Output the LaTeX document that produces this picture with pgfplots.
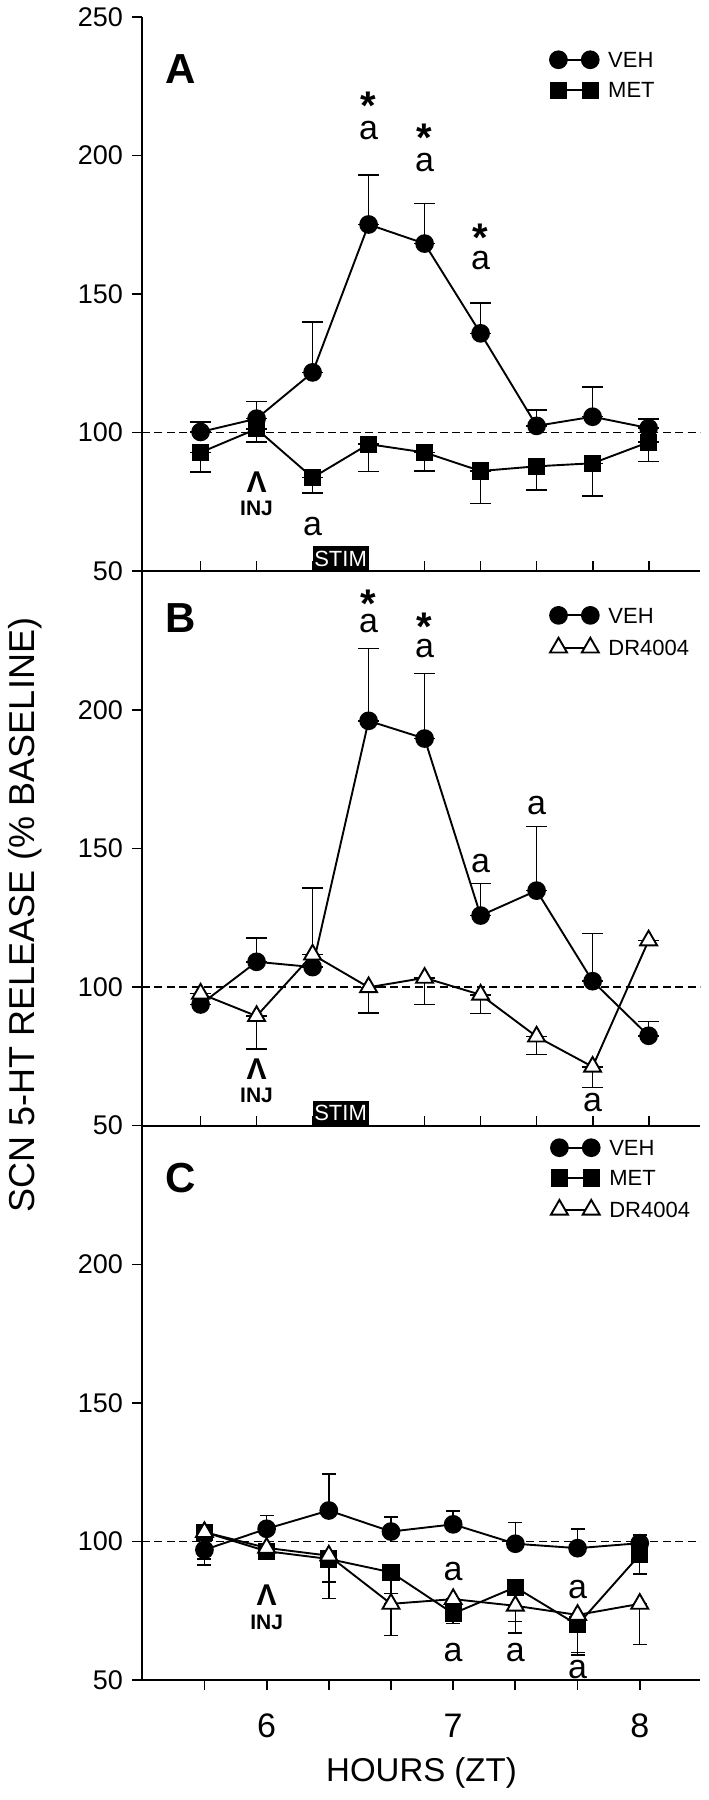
\documentclass[border=0pt]{standalone}
\usepackage{pgfplots}
\pgfplotsset{compat=1.18}
\usepackage{fontspec}
\setmainfont{Liberation Sans}
\newcommand{\fs}[1]{\fontsize{#1}{#1}\selectfont}
% 'a' with a bold asterisk raised above it, as one text box
\newcommand{\sta}[1]{\ooalign{\hfil a\hfil\cr\hfil\raisebox{#1}{\fs{20}\bfseries *}\hfil\cr}}
\pgfplotsset{
  panel/.style={
    scale only axis, width=279pt, height=277pt,
    axis x line=bottom, axis y line=left,
    axis line style={-, line width=1pt},
    ymin=50, ymax=250,
    tick align=outside,
    tick style={black, line width=0.9pt},
    major tick length=5pt,
    ticklabel style={font=\fs{13.5}},
    yticklabel style={xshift=-1pt},
    /pgf/number format/assume math mode=true,
    clip=false,
    legend image code/.code={\draw[mark repeat=1,mark phase=1,#1] plot coordinates {(0pt,0pt) (15.9pt,0pt)};},
    legend style={draw=none, fill=none, inner sep=0pt, outer sep=0pt, font=\fs{11},
      row sep=7pt, nodes={inner sep=0pt, text height=7.9pt, text depth=0pt},
      /tikz/every odd column/.append style={column sep=4.8pt}},
    legend cell align=left,
  },
  capbig/.style={error bars/error bar style={line width=0.75pt},
    error bars/error mark options={line width=0.75pt, mark size=5.2pt, rotate=90}},
  capsmall/.style={error bars/error bar style={line width=0.75pt},
    error bars/error mark options={line width=0.75pt, mark size=3.5pt, rotate=90}},
  dat/.style={black, line width=0.95pt, mark options={solid},
    error bars/y dir=both, error bars/y explicit},
  veh/.style={dat, mark=*, mark size=4.2pt},
  met/.style={dat, mark=square*, mark size=3.8pt},
  dr/.style={dat, mark=triangle*, mark size=4.9pt, mark options={fill=white, draw=black}},
  base/.style={black, line width=0.6pt, dash pattern=on 4pt off 2.2pt, forget plot},
}
\tikzset{
  lt/.style={font=\fs{17}, inner sep=0pt},
  sa/.style={font=\fs{17}, inner sep=0pt, anchor=base, yshift=-4.5pt},
  pl/.style={font=\fs{21}\bfseries},
  inj/.style={font=\fs{10.5}\bfseries},
  arr/.style={font=\fs{15}\bfseries},
}
\begin{document}
\begin{tikzpicture}
\path[use as bounding box] (0,0) rectangle (354pt,-900pt);

% ---------------- Panel A ----------------
\begin{axis}[panel, capbig, at={(71pt,-285.5pt)}, anchor=south west,
  xmin=-0.046, xmax=9.918, xtick={1,...,9}, xticklabels={},
  xtick style={yshift=5pt},
  ytick={50,100,150,200,250},
  legend style={at={(axis cs:7.24,237.6)}, anchor=north west}]
\addplot[base] coordinates {(-0.046,100) (9.918,100)};
\addplot[veh] table[x=x,y=y,y error plus=ep,y error minus=em] {
x y ep em
1 100.2 3.6 0
2 105.0 6.2 0
3 121.7 18.2 0
4 175.1 17.8 0
5 168.2 14.5 0
6 135.8 11.0 0
7 102.4 5.8 0
8 105.7 10.7 0
9 101.6 3.2 0
};
\addlegendentry{VEH}
\addplot[met] table[x=x,y=y,y error plus=ep,y error minus=em] {
x y ep em
1 92.8 0 7.1
2 101.3 0 4.8
3 83.7 0 5.6
4 95.8 0 9.9
5 92.8 0 6.7
6 86.1 0 11.8
7 87.8 0 8.6
8 88.9 0 11.9
9 96.5 0 6.9
};
\addlegendentry{MET}
\fill[black] (axis cs:3,50) rectangle (axis cs:4,59);
\node[white, font=\fs{11}] at (axis cs:3.5,54.5) {STIM};
\node[pl] at (axis cs:0.65,231.2) {A};
\node[sa] at (axis cs:4,208.9) {\sta{10.1pt}};
\node[sa] at (axis cs:5,197.6) {\sta{10pt}};
\node[sa] at (axis cs:6,162) {\sta{9.3pt}};
\node[lt] at (axis cs:3,66) {a};
\node[arr] at (axis cs:2,82.2) {Λ};
\node[inj] at (axis cs:2,72.5) {INJ};
\end{axis}

% ---------------- Panel B ----------------
\begin{axis}[panel, capbig, at={(71pt,-562.75pt)}, anchor=south west,
  xmin=-0.046, xmax=9.918, xtick={1,...,9}, xticklabels={},
  xtick style={yshift=5pt},
  ytick={50,100,150,200},
  legend style={at={(axis cs:7.24,237.2)}, anchor=north west}]
\addplot[base] coordinates {(-0.046,100) (9.918,100)};
\addplot[veh] table[x=x,y=y,y error plus=ep,y error minus=em] {
x y ep em
1 93.7 0 0
2 109.1 8.6 0
3 107.2 28.5 0
4 196.1 26.1 0
5 189.7 23.4 0
6 125.8 11.6 0
7 134.8 23.2 0
8 102.1 17.3 0
9 82.4 5.1 0
};
\addlegendentry{VEH}
\addplot[dr] table[x=x,y=y,y error plus=ep,y error minus=em] {
x y ep em
1 97.6 0 0
2 89.5 0 11.9
3 111.7 0 0
4 99.9 0 9.2
5 103.3 0 9.6
6 97.2 0 6.7
7 82.1 0 6.4
8 71.2 0 7.4
9 116.8 0 0
};
\addlegendentry{DR4004}
\fill[black] (axis cs:3,50) rectangle (axis cs:4,59);
\node[white, font=\fs{11}] at (axis cs:3.5,54.5) {STIM};
\node[pl] at (axis cs:0.65,233.2) {B};
\node[sa] at (axis cs:4,231.2) {\sta{7.6pt}};
\node[sa] at (axis cs:5,222.2) {\sta{8.3pt}};
\node[lt] at (axis cs:6,144.5) {a};
\node[lt] at (axis cs:7,165.7) {a};
\node[lt] at (axis cs:8,58.2) {a};
\node[arr] at (axis cs:2,70.3) {Λ};
\node[inj] at (axis cs:2,60.9) {INJ};
\end{axis}

% ---------------- Panel C ----------------
\begin{axis}[panel, capsmall, at={(71pt,-840pt)}, anchor=south west,
  xmin=5.332, xmax=8.323,
  xtick={5.6667,6,6.3333,6.6667,7,7.3333,7.6667,8},
  xticklabels={,6,,,7,,,8},
  xticklabel style={font=\fs{17}, yshift=-8.5pt},
  ytick={50,100,150,200},
  legend style={at={(axis cs:7.524,245.2)}, anchor=north west}]
\addplot[base] coordinates {(5.332,100) (8.323,100)};
\addplot[veh] table[x=x,y=y,y error plus=ep,y error minus=em] {
x y ep em
5.6667 97.0 0 5.4
6 104.6 4.8 0
6.3333 111.2 13.2 0
6.6667 103.6 5.2 0
7 106.2 4.9 0
7.3333 99.2 7.7 0
7.6667 97.6 7.0 0
8 99.4 3.0 0
};
\addlegendentry{VEH}
\addplot[met] table[x=x,y=y,y error plus=ep,y error minus=em] {
x y ep em
5.6667 103.4 0 9.8
6 96.5 0 0
6.3333 93.7 0 8.4
6.6667 88.9 0 7.6
7 74.0 0 3.6
7.3333 83.5 0 16.6
7.6667 69.9 0 10.0
8 95.2 0 7.0
};
\addlegendentry{MET}
\addplot[dr] table[x=x,y=y,y error plus=ep,y error minus=em] {
x y ep em
5.6667 103.4 0 0
6 97.7 0 0
6.3333 94.9 0 15.4
6.6667 77.5 0 11.4
7 79.2 0 0
7.3333 76.8 0 5.7
7.6667 73.5 0 14.4
8 77.5 0 14.6
};
\addlegendentry{DR4004}
\node[pl] at (axis cs:5.541,231.2) {C};
\node[lt] at (axis cs:7,89.2) {a};
\node[lt] at (axis cs:7,60.0) {a};
\node[lt] at (axis cs:7.3333,60.0) {a};
\node[lt] at (axis cs:7.6667,82.6) {a};
\node[lt] at (axis cs:7.6667,53.9) {a};
\node[arr] at (axis cs:6,80.5) {Λ};
\node[inj] at (axis cs:6,70.9) {INJ};
\end{axis}

\node[rotate=90, font=\fs{18}] at (12.5pt,-457.5pt) {SCN 5-HT RELEASE (\% BASELINE)};
\node[font=\fs{16.5}] at (210.75pt,-886.6pt) {HOURS (ZT)};
\end{tikzpicture}
\end{document}
